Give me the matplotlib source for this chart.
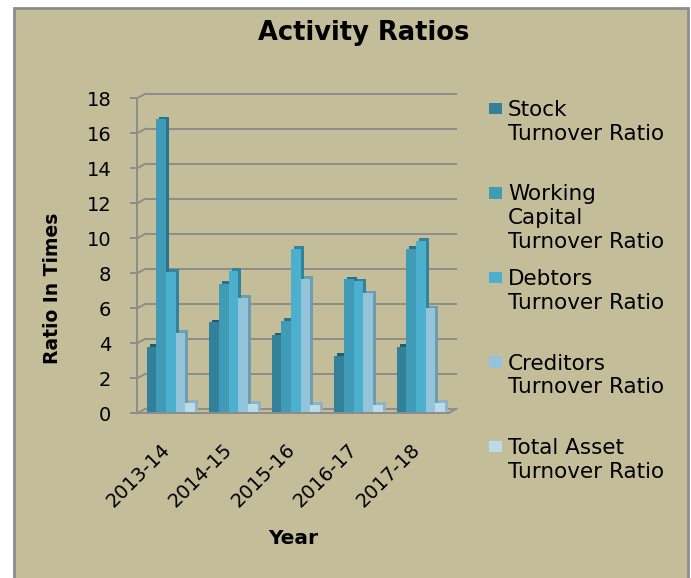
import matplotlib
matplotlib.use("Agg")
import matplotlib.pyplot as plt
from matplotlib.patches import Rectangle
from matplotlib.transforms import offset_copy, ScaledTranslation
import numpy as np

# ---- data ----
years = ['2013-14', '2014-15', '2015-16', '2016-17', '2017-18']
stock_turnover = [3.8, 5.2, 4.45, 3.3, 3.8]
working_capital_turnover = [16.8, 7.4, 5.3, 7.65, 9.4]
debtors_turnover = [8.1, 8.15, 9.4, 7.55, 9.85]
creditors_turnover = [4.6, 6.6, 7.7, 6.85, 6.0]
total_asset_turnover = [0.6, 0.55, 0.5, 0.5, 0.6]
series_names = ['Stock\nTurnover Ratio',
                'Working\nCapital\nTurnover Ratio',
                'Debtors\nTurnover Ratio',
                'Creditors\nTurnover Ratio',
                'Total Asset\nTurnover Ratio']
y_ticks = [0, 2, 4, 6, 8, 10, 12, 14, 16, 18]

series = [stock_turnover, working_capital_turnover, debtors_turnover,
          creditors_turnover, total_asset_turnover]
front_colors = ['#33809A', '#409BB6', '#4BAFCD', '#93C4DA', '#BCDBE8']
side_colors = ['#1F5F73', '#2A7189', '#33839C', '#6E9CB0', '#8FB3C3']

W, H = 691, 578
BG = '#C4BD99'
GRID = '#8C8C8C'

fig = plt.figure(figsize=(W / 100, H / 100), dpi=100, facecolor='white')

def fx(x):
    return x / W

def fy(y):
    return 1 - y / H

# outer frame
frame = Rectangle((fx(14), fy(H + 20)), fx(688) - fx(14), fy(7.5) - fy(H + 20),
                  transform=fig.transFigure, facecolor=BG, edgecolor=GRID,
                  linewidth=2.0, zorder=-10)
fig.patches.append(frame)

# axes (front plane)
ax_left, ax_right, ax_top, ax_bottom = 137, 448, 98.3, 413.3
ax = fig.add_axes([fx(ax_left), fy(ax_bottom), fx(ax_right) - fx(ax_left),
                   fy(ax_top) - fy(ax_bottom)])
ax.set_zorder(1)
ax.patch.set_visible(False)

n = len(years)
x = np.arange(n)
xmin, xmax = -0.542, 4.434
ymin, ymax = 0, 18
ax.set_xlim(xmin, xmax)
ax.set_ylim(ymin, ymax)

# depth offset for walls (pixels -> data units)
px_x = (xmax - xmin) / (ax_right - ax_left)
px_y = (ymax - ymin) / (ax_bottom - ax_top)
ddx, ddy = 8.5 * px_x, 4.5 * px_y

# back wall gridlines + left wall slants
for v in y_ticks:
    ax.plot([xmin + ddx, xmax + ddx], [v + ddy, v + ddy], color=GRID, lw=1.4,
            zorder=1, clip_on=False, solid_capstyle='butt')
    ax.plot([xmin, xmin + ddx], [v, v + ddy], color=GRID, lw=1.4,
            zorder=1, clip_on=False)
# floor right slant
ax.plot([xmax, xmax + ddx], [0, ddy], color=GRID, lw=1.4, zorder=1, clip_on=False)

# bars
bw = 0.1547
shadow_tr = offset_copy(ax.transData, fig=fig, x=3, y=2.5, units='dots')
for j, (vals, fc, sc) in enumerate(zip(series, front_colors, side_colors)):
    xs = x + (j - 2) * bw
    ax.bar(xs, vals, width=bw, color=sc, transform=shadow_tr, zorder=2,
           linewidth=0)
for j, (vals, fc, sc) in enumerate(zip(series, front_colors, side_colors)):
    xs = x + (j - 2) * bw
    ax.bar(xs, vals, width=bw, color=fc, zorder=3, linewidth=0)

# spines
for s in ['top', 'right']:
    ax.spines[s].set_visible(False)
for s in ['left', 'bottom']:
    ax.spines[s].set_color(GRID)
    ax.spines[s].set_linewidth(1.4)
    ax.spines[s].set_zorder(4)

ax.set_yticks(y_ticks)
ax.set_yticklabels([str(t) for t in y_ticks])
ax.tick_params(axis='y', length=5, width=1.4, color=GRID, labelsize=14,
               pad=13.5, labelcolor='black')
ax.set_xticks(x)
ax.set_xticklabels(years, rotation=45, ha='right', va='center',
                   rotation_mode='anchor', fontsize=14)
ax.tick_params(axis='x', length=0, pad=24)
shift = ScaledTranslation(-4 / 100, 0, fig.dpi_scale_trans)
for lab in ax.get_xticklabels():
    lab.set_transform(lab.get_transform() + shift)

# titles
fig.text(fx(364), fy(40), 'Activity Ratios', ha='center', va='baseline',
         fontsize=18.5, fontweight='bold')
fig.text(fx(53), fy(288), 'Ratio In Times', ha='center', va='center',
         rotation=90, fontsize=13.5, fontweight='bold')
fig.text(fx(293), fy(544), 'Year', ha='center', va='baseline',
         fontsize=14.5, fontweight='bold')

# legend
leg_y0, leg_step, line_step = 108.5, 84.5, 23.7
for i, (name, fc) in enumerate(zip(series_names, front_colors)):
    yc = leg_y0 + i * leg_step
    fig.patches.append(Rectangle((fx(489.3), fy(yc + 5.8)), 13 / W, 11.6 / H,
                                 transform=fig.transFigure, facecolor=fc,
                                 edgecolor='none', zorder=2))
    for k, line in enumerate(name.split('\n')):
        fig.text(fx(508), fy(yc + k * line_step + 7.5), line, ha='left',
                 va='baseline', fontsize=15.5)

fig.savefig('out.png', dpi=100, facecolor='white')
